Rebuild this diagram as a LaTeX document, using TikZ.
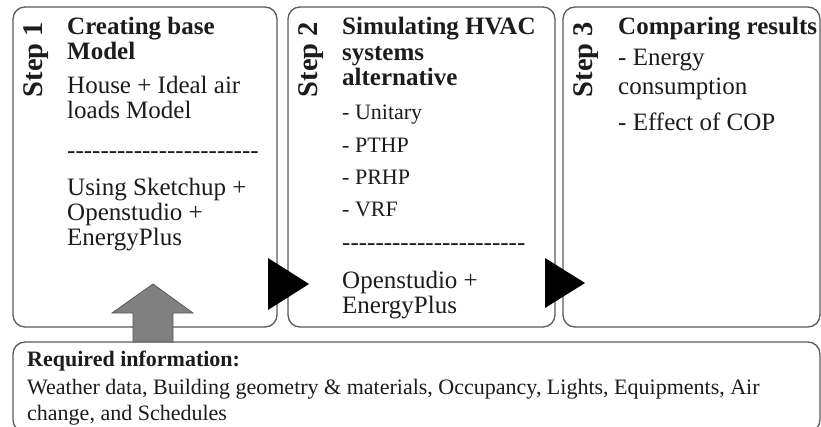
\documentclass[tikz,border=0pt]{standalone}
\usepackage{fontspec}
\setmainfont[Ligatures=TeXOff]{Liberation Serif}
\definecolor{linec}{HTML}{5A5A5A}
\definecolor{txt}{HTML}{1C1C1C}
\definecolor{arrg}{HTML}{808080}
\tikzset{
  box/.style={draw=linec, line width=1.3pt, rounded corners=12pt, inner sep=0pt, fill=white},
  tl/.style={anchor=base west, inner sep=0pt, text=txt, font=\fontsize{25}{25}\selectfont},
  tlb/.style={tl, font=\fontsize{25}{25}\selectfont\bfseries},
  ts/.style={tl, font=\fontsize{22}{22}\selectfont},
  tsb/.style={tl, font=\fontsize{22}{22}\selectfont\bfseries},
  steplbl/.style={rotate=90, inner sep=0pt, text=txt, font=\fontsize{28.5}{28.5}\selectfont\bfseries},
}
\begin{document}
\begin{tikzpicture}[x=1pt,y=-1pt]
\useasboundingbox (0,0) rectangle (821,427);
\clip (0,0) rectangle (821,427);
% boxes
\node[box, minimum width=264pt, minimum height=320pt] (b1) at (145,167) {};
\node[box, minimum width=267pt, minimum height=320pt] (b2) at (421.5,167) {};
\node[box, minimum width=257pt, minimum height=320pt] (b3) at (691.5,167) {};
\node[box, minimum width=807pt, minimum height=90pt] (b4) at (416.5,387) {};
% step labels
\node[steplbl] (s1) at (36,59.5) {Step 1};
\node[steplbl] (s2) at (311,59.5) {Step 2};
\node[steplbl] (s3) at (586,59.5) {Step 3};
% box 1 text
\node[tlb] (t11) at (67,35) {Creating base};
\node[tlb] (t12) at (67,60) {Model};
\node[tl] (t13) at (67,94) {House + Ideal air};
\node[tl] (t14) at (67,119) {loads Model};
\node[tl] (t15) at (67,159) {-----------------------};
\node[tl] (t16) at (67,196) {Using Sketchup +};
\node[tl] (t17) at (67,221) {Openstudio +};
\node[tl] (t18) at (67,246) {EnergyPlus};
% box 2 text
\node[tlb] (t21) at (342,35) {Simulating HVAC};
\node[tlb] (t22) at (342,61) {systems};
\node[tlb] (t23) at (342,86) {alternative};
\node[ts] (t24) at (342,120) {- Unitary};
\node[ts] (t25) at (342,153) {- PTHP};
\node[ts] (t26) at (342,185) {- PRHP};
\node[ts] (t27) at (342,217) {- VRF};
\node[tl] (t28) at (342,251) {----------------------};
\node[tl] (t29) at (342,289) {Openstudio +};
\node[tl] (t2a) at (342,313) {EnergyPlus};
% box 3 text
\node[tlb] (t31) at (618,35) {Comparing results};
\node[tl] (t32) at (618,66) {- Energy};
\node[tl] (t33) at (618,95) {consumption};
\node[tl] (t34) at (618,131) {- Effect of COP};
% bottom text
\node[tsb] (t41) at (27,366) {Required information:};
\node[ts] (t42) at (27,394) {Weather data, Building geometry \& materials, Occupancy, Lights, Equipments, Air};
\node[ts] (t43) at (27,420) {change, and Schedules};
% gray up arrow
\filldraw[fill=arrg, draw=linec, line width=0.8pt] (133,342) -- (133,313) -- (112,313) -- (153,284) -- (193,313) -- (173,313) -- (173,342) -- cycle;
% black triangles
\fill[black] (268,258) -- (268,310) -- (309,284) -- cycle;
\fill[black] (545,258) -- (545,308) -- (585,283) -- cycle;
\end{tikzpicture}
\end{document}
